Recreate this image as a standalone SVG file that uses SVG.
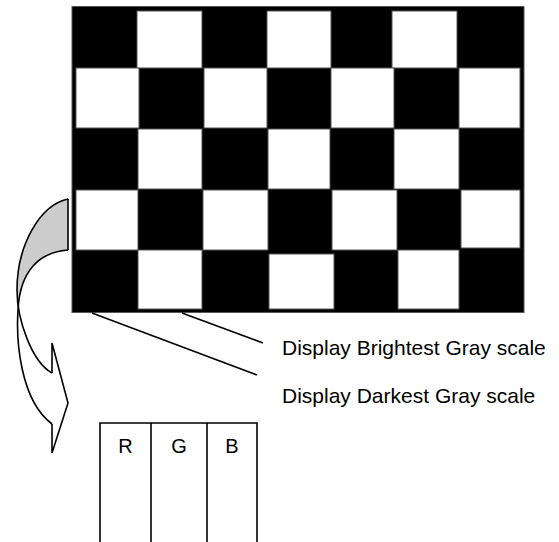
<svg xmlns="http://www.w3.org/2000/svg" width="559" height="542" viewBox="0 0 559 542">
<style>
.w{fill:#fff;stroke:#555;stroke-width:1}
.ln{fill:none;stroke:#000;stroke-width:1.6}
.t{font-family:"Liberation Sans",Arial,sans-serif;font-size:20px;fill:#000}
.lb{font-size:21px}
</style>
<rect width="559" height="542" fill="#fff"/>
<g id="board">
<rect x="72" y="6.5" width="452" height="306" fill="#000" stroke="#555" stroke-width="1"/>
<rect class="w" x="137" y="11" width="65" height="57"/>
<rect class="w" x="267" y="11" width="64" height="57"/>
<rect class="w" x="392" y="11" width="65" height="57"/>
<rect class="w" x="76" y="68" width="63" height="60"/>
<rect class="w" x="204" y="68" width="63" height="60"/>
<rect class="w" x="331" y="68" width="63" height="60"/>
<rect class="w" x="459" y="68" width="61" height="60"/>
<rect class="w" x="138" y="129" width="64" height="60"/>
<rect class="w" x="268" y="129" width="62" height="60"/>
<rect class="w" x="394" y="129" width="65" height="60"/>
<rect class="w" x="76" y="190" width="62" height="60"/>
<rect class="w" x="203" y="190" width="65" height="60"/>
<rect class="w" x="332" y="190" width="65" height="60"/>
<rect class="w" x="461" y="190" width="59" height="58"/>
<rect class="w" x="138" y="250" width="64" height="59"/>
<rect class="w" x="269" y="254" width="65" height="55"/>
<rect class="w" x="398" y="250" width="61" height="59"/>
</g>
<g id="curved-arrow">
<path d="M68,199 C40,205 17,245 17,290 L18.5,310 C20,270 40,252 68,250 Z" fill="#ccc" stroke="none"/>
<path class="ln" d="M68,199 L68,250"/>
<path class="ln" d="M68,199 C40,205 17,245 17,290 C17,320 32,362 52,373"/>
<path class="ln" d="M68,250 C40,252 20,270 18,310 C16,340 20,400 52,424"/>
<path class="ln" d="M52,373 L52,343 L68,403 L52,453 L52,424" stroke-linejoin="miter"/>
</g>
<g id="connectors">
<line class="ln" x1="182" y1="313" x2="263" y2="343"/>
<line class="ln" x1="92" y1="313" x2="257" y2="375"/>
</g>
<g id="label-brightest">
<text class="t lb" x="282" y="355">Display Brightest Gray scale</text>
</g>
<g id="label-darkest">
<text class="t lb" x="282" y="403">Display Darkest Gray scale</text>
</g>
<g id="rgb">
<path class="ln" d="M100,545 L100,423 L257,423 L257,545 M151,423 L151,545 M207,423 L207,545"/>
<text class="t" x="125.5" y="453" text-anchor="middle">R</text>
<text class="t" x="179" y="453" text-anchor="middle">G</text>
<text class="t" x="232" y="453" text-anchor="middle">B</text>
</g>
</svg>
